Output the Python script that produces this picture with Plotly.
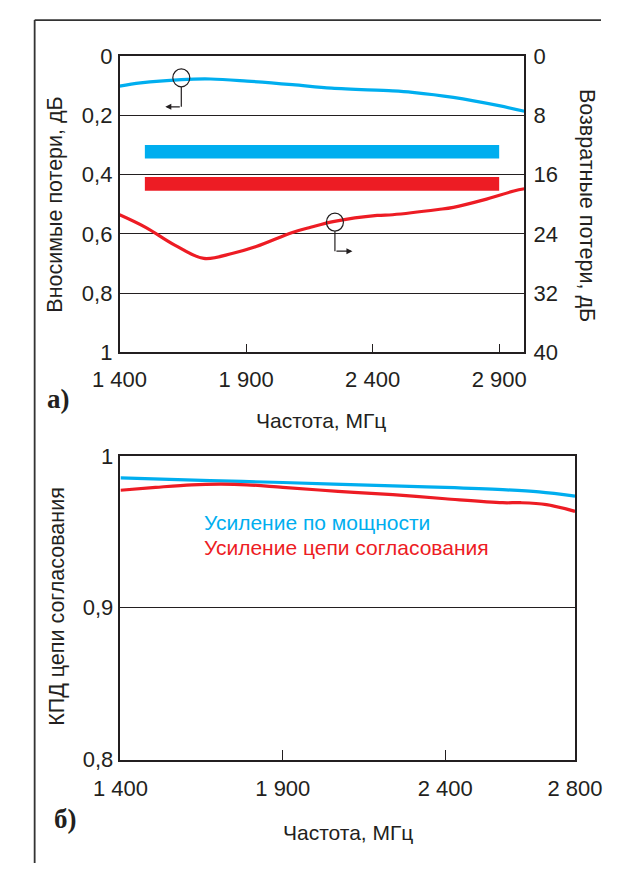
import plotly.graph_objects as go

W, H = 629, 876

# ---------- data: panel a ----------
freq_il = [1400, 1483, 1644, 1760, 1904, 2083, 2238, 2479, 2557, 2719, 2899, 3000]
insertion_loss = [0.101, 0.090, 0.079, 0.077, 0.084, 0.096, 0.108, 0.117, 0.122, 0.139, 0.167, 0.186]

freq_rl = [1400, 1503, 1618, 1733, 1848, 1940, 2083, 2155, 2249, 2418, 2479, 2659, 2719, 2839, 2958, 3000]
return_loss = [21.4, 23.1, 25.5, 27.3, 26.6, 25.7, 23.8, 23.1, 22.3, 21.5, 21.4, 20.7, 20.4, 19.4, 18.2, 17.9]

band_freq = [1500, 2900]
band_blue = [0.30, 0.345]
band_red = [0.408, 0.454]

marker_il = (1644, 0.073)
marker_rl = (2251, 22.4)

xticks_a = [1400, 1900, 2400, 2900]
xticklabels_a = ["1 400", "1 900", "2 400", "2 900"]
yticks_a = [0, 0.2, 0.4, 0.6, 0.8, 1]
yticklabels_a = ["0", "0,2", "0,4", "0,6", "0,8", "1"]
y2ticks_a = [0, 8, 16, 24, 32, 40]
y2ticklabels_a = ["0", "8", "16", "24", "32", "40"]

# ---------- data: panel b ----------
freq_pg = [1400, 1677, 1900, 2239, 2400, 2577, 2689, 2800]
power_gain = [0.9855, 0.9838, 0.9825, 0.9803, 0.9793, 0.9778, 0.9763, 0.9735]
freq_mg = [1400, 1508, 1620, 1710, 1789, 1900, 2070, 2239, 2400, 2577, 2633, 2712, 2800]
match_gain = [0.9774, 0.9793, 0.9810, 0.9814, 0.9810, 0.9793, 0.9767, 0.9745, 0.9718, 0.9692, 0.9692, 0.9679, 0.9635]

xticks_b = [1400, 1900, 2400, 2800]
xticklabels_b = ["1 400", "1 900", "2 400", "2 800"]
yticks_b = [0.8, 0.9, 1.0]
yticklabels_b = ["0,8", "0,9", "1"]

BLUE = "#00AEEF"
RED = "#ED1C24"
DARK = "#231F20"
FONT = "Liberation Sans, Arial, sans-serif"
FS = 22
FS_TXT = 21

def px(x):
    return x / W

def py(y):
    return 1 - y / H

fig = go.Figure()

# bands
fig.add_trace(go.Scatter(x=band_freq + band_freq[::-1] + band_freq[:1],
                         y=[band_blue[0]] * 2 + [band_blue[1]] * 2 + [band_blue[0]],
                         fill="toself", fillcolor=BLUE, mode="lines", line=dict(width=0),
                         xaxis="x", yaxis="y", hoverinfo="skip", showlegend=False))
fig.add_trace(go.Scatter(x=band_freq + band_freq[::-1] + band_freq[:1],
                         y=[band_red[0]] * 2 + [band_red[1]] * 2 + [band_red[0]],
                         fill="toself", fillcolor=RED, mode="lines", line=dict(width=0),
                         xaxis="x", yaxis="y", hoverinfo="skip", showlegend=False))

fig.add_trace(go.Scatter(x=freq_il, y=insertion_loss, mode="lines",
                         line=dict(color=BLUE, width=3.2, shape="spline", smoothing=1),
                         xaxis="x", yaxis="y", showlegend=False))
fig.add_trace(go.Scatter(x=freq_rl, y=return_loss, mode="lines",
                         line=dict(color=RED, width=3.2, shape="spline", smoothing=1),
                         xaxis="x", yaxis="y2", showlegend=False))

fig.add_trace(go.Scatter(x=freq_pg, y=power_gain, mode="lines",
                         line=dict(color=BLUE, width=3.2, shape="spline", smoothing=1),
                         xaxis="x2", yaxis="y3", showlegend=False))
fig.add_trace(go.Scatter(x=freq_mg, y=match_gain, mode="lines",
                         line=dict(color=RED, width=3.2, shape="spline", smoothing=1),
                         xaxis="x2", yaxis="y3", showlegend=False))

axis_common = dict(showline=True, linecolor=DARK, linewidth=1.5, mirror=True,
                   tickfont=dict(family=FONT, size=FS, color=DARK), zeroline=False)

fig.update_layout(
    width=W, height=H, margin=dict(l=0, r=0, t=0, b=0),
    paper_bgcolor="white", plot_bgcolor="white", showlegend=False,
    xaxis=dict(domain=[px(100.5), px(545)], range=[1400, 3000], anchor="y",
               tickvals=xticks_a, ticktext=xticklabels_a, ticks="inside", ticklen=9,
               tickcolor=DARK, tickwidth=1.2, showgrid=False, ticklabelstandoff=6,
               **axis_common),
    yaxis=dict(domain=[py(350.5), py(45.5)], range=[1, 0], anchor="x",
               tickvals=yticks_a, ticktext=yticklabels_a, ticks="",
               showgrid=True, gridcolor=DARK, gridwidth=1.2, ticklabelstandoff=1,
               **axis_common),
    yaxis2=dict(range=[40, 0], overlaying="y", side="right", anchor="x",
                tickvals=y2ticks_a, ticktext=y2ticklabels_a, ticks="",
                showgrid=False, showline=False, zeroline=False, ticklabelstandoff=8,
                tickfont=dict(family=FONT, size=FS, color=DARK)),
    xaxis2=dict(domain=[px(101.5), px(600.5)], range=[1400, 2800], anchor="y3",
                tickvals=xticks_b, ticktext=xticklabels_b, ticks="inside", ticklen=10,
                tickcolor=DARK, tickwidth=1.2, showgrid=False, ticklabelstandoff=8,
                **axis_common),
    yaxis3=dict(domain=[py(769.5), py(457)], range=[0.8, 1.0], anchor="x2",
                tickvals=yticks_b, ticktext=yticklabels_b, ticks="",
                showgrid=True, gridcolor=DARK, gridwidth=1.2, ticklabelstandoff=1,
                **axis_common),
)

shapes = []
# frame
shapes.append(dict(type="line", xref="paper", yref="paper", x0=px(7.3), x1=px(7.3), y0=0, y1=py(8.3),
                   line=dict(color="#333", width=1.8)))
shapes.append(dict(type="line", xref="paper", yref="paper", x0=px(7.3), x1=1, y0=py(8.3), y1=py(8.3),
                   line=dict(color="#333", width=1.8)))

# callout markers
for (mx, my), yref in [(marker_il, "y"), (marker_rl, "y2")]:
    shapes.append(dict(type="circle", xref="x", yref=yref, xsizemode="pixel", ysizemode="pixel",
                       xanchor=mx, yanchor=my, x0=-8.5, x1=8.5, y0=-9, y1=9,
                       line=dict(color=DARK, width=1.2)))
    shapes.append(dict(type="line", xref="x", yref=yref, xsizemode="pixel", ysizemode="pixel",
                       xanchor=mx, yanchor=my, x0=0, x1=0, y0=-9, y1=-29,
                       line=dict(color=DARK, width=1.2)))
fig.update_layout(shapes=shapes)

ann = []
# callout arrows
ann.append(dict(x=marker_il[0], y=marker_il[1], xref="x", yref="y", text="", showarrow=True,
                xshift=-16, yshift=-29, ax=16, ay=0, arrowhead=2, arrowsize=1, arrowwidth=1.2,
                arrowcolor=DARK))
ann.append(dict(x=marker_rl[0], y=marker_rl[1], xref="x", yref="y2", text="", showarrow=True,
                xshift=17.5, yshift=-29, ax=-17.5, ay=0, arrowhead=2, arrowsize=1, arrowwidth=1.2,
                arrowcolor=DARK))

def label(text, x, y, size=FS, angle=0, color=DARK, xanchor="center", family=FONT, bold=False):
    t = f"<b>{text}</b>" if bold else text
    ann.append(dict(text=t, x=px(x), y=py(y), xref="paper", yref="paper", showarrow=False,
                    textangle=angle, xanchor=xanchor, yanchor="middle",
                    font=dict(family=family, size=size, color=color)))

label("Вносимые потери, дБ", 30, 198, size=21.5, angle=-90)
label("Возвратные потери, дБ", 613, 199, size=21.5, angle=90)
label("Частота, МГц", 322, 421, size=FS_TXT)
label("а)", 33, 398, size=27, family="Liberation Serif, Times New Roman, serif", bold=True)

label("КПД цепи согласования", 31, 612, size=21.5, angle=-90)
label("Частота, МГц", 351, 845, size=FS_TXT)
label("б)", 41, 831, size=27, family="Liberation Serif, Times New Roman, serif", bold=True)
label("Усиление по мощности", 191, 526, size=FS_TXT, color=BLUE, xanchor="left")
label("Усиление цепи согласования", 191, 551, size=FS_TXT, color=RED, xanchor="left")

fig.update_layout(annotations=ann)

fig.write_html("out.html")
